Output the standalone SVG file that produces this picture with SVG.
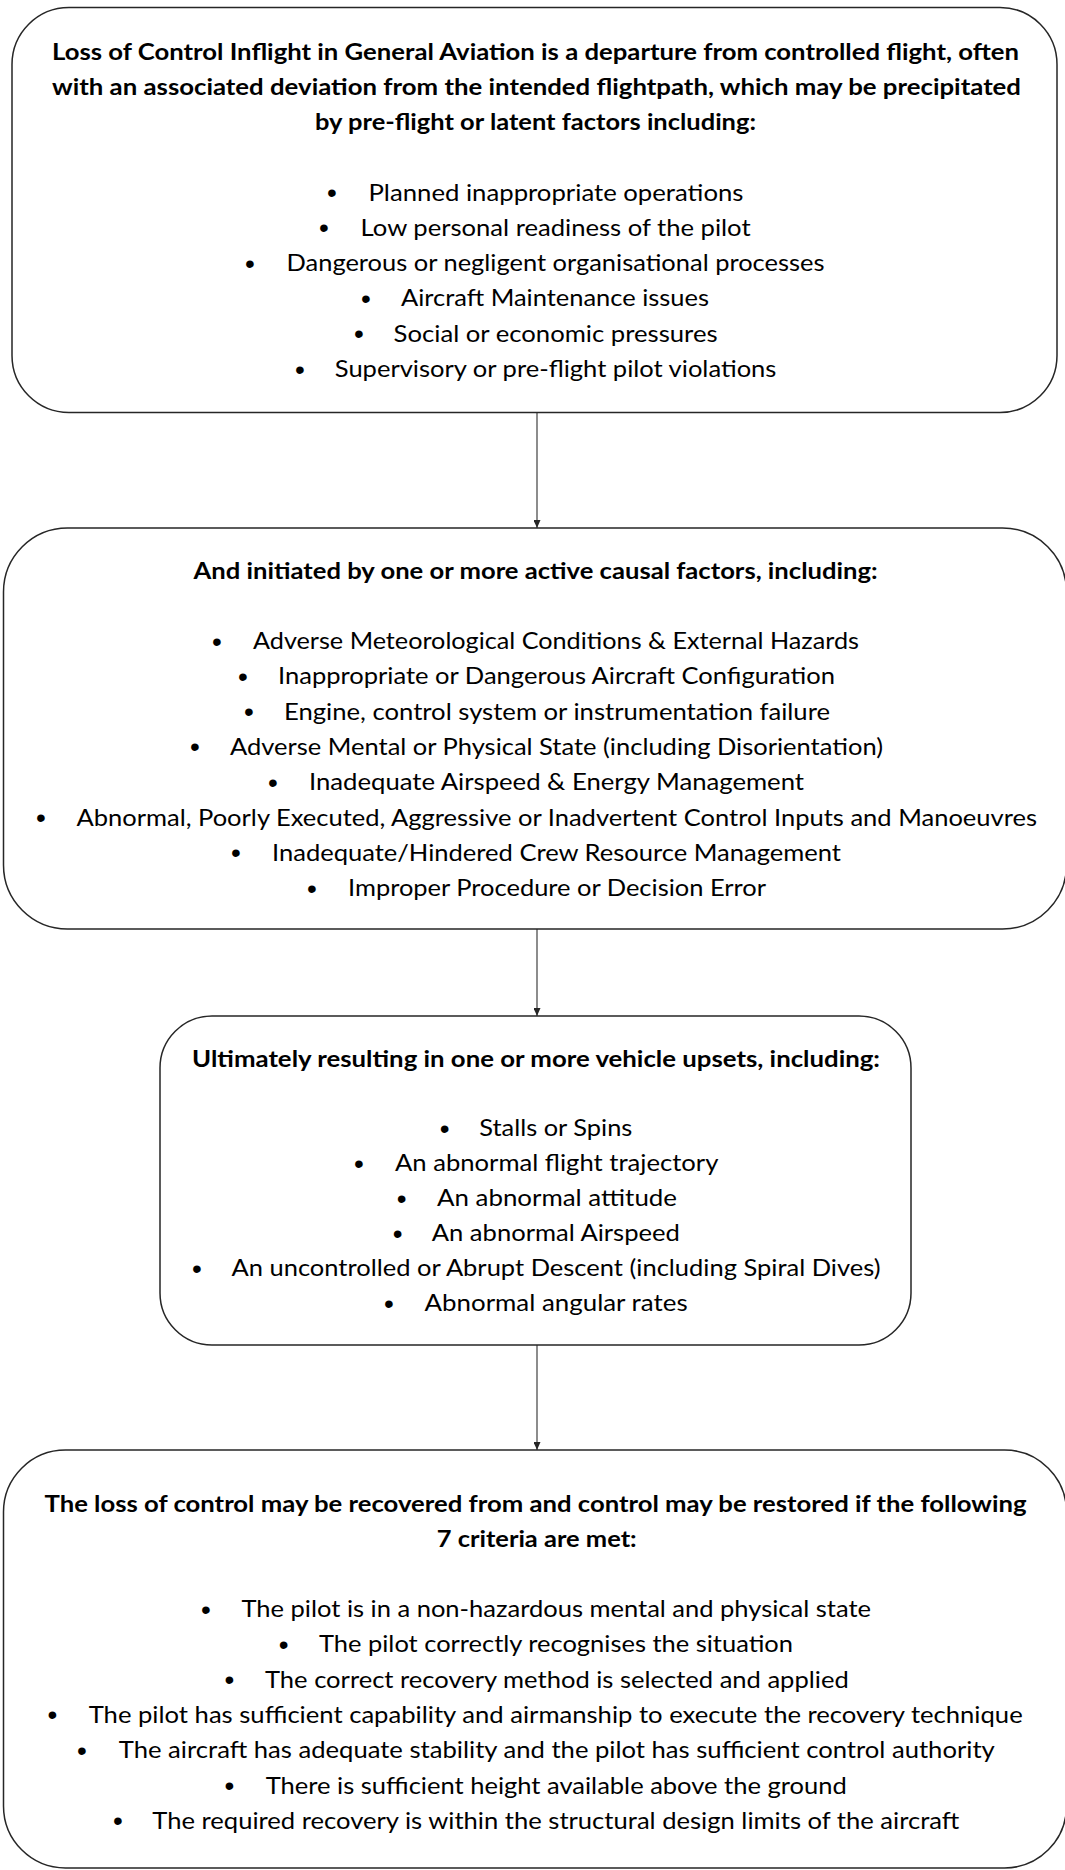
<svg xmlns="http://www.w3.org/2000/svg" width="1065" height="1870" viewBox="0 0 1065 1870">
  <style>
    .box { fill: #ffffff; stroke: #262626; stroke-width: 1.5; }
    .link { fill: none; stroke: #404040; stroke-width: 1.2; }
    text { font-family: Lato, "Open Sans", "Liberation Sans", sans-serif; font-size: 22.5px; fill: #000000; }
    .hd { font-weight: 700; font-size: 22px; }
    .dot { font-family: "Liberation Sans", Arial, sans-serif; font-size: 28px; text-anchor: middle; }
  </style>
  <defs>
    <marker id="ah" viewBox="0 0 8 7" refX="8" refY="3.5" markerWidth="8" markerHeight="7" orient="auto" markerUnits="userSpaceOnUse">
      <path d="M0,0 L8,3.5 L0,7 z" fill="#262626"/>
    </marker>
  </defs>
  <rect x="0" y="0" width="1065" height="1870" fill="#ffffff"/>

  <!-- connectors between the four stages -->
  <g id="connectors">
    <line class="link" x1="537" y1="413" x2="537" y2="528" marker-end="url(#ah)"/>
    <line class="link" x1="537" y1="929" x2="537" y2="1016" marker-end="url(#ah)"/>
    <line class="link" x1="537" y1="1345" x2="537" y2="1450" marker-end="url(#ah)"/>
  </g>

  <!-- stage 1: definition and latent factors -->
  <g id="node-definition">
    <rect class="box" x="12" y="7.5" width="1045" height="405" rx="57" ry="57"/>
    <text class="hd" x="52" y="59.5" textLength="967" lengthAdjust="spacingAndGlyphs">Loss of Control Inflight in General Aviation is a departure from controlled flight, often</text>
    <text class="hd" x="52" y="94.8" textLength="969" lengthAdjust="spacingAndGlyphs">with an associated deviation from the intended flightpath, which may be precipitated</text>
    <text class="hd" x="315" y="130" textLength="441" lengthAdjust="spacingAndGlyphs">by pre-flight or latent factors including:</text>
    <text class="dot" x="332" y="202">•</text>
    <text x="368.5" y="200.5" textLength="375" lengthAdjust="spacingAndGlyphs">Planned inappropriate operations</text>
    <text class="dot" x="324" y="237.3">•</text>
    <text x="360.6" y="235.8" textLength="390" lengthAdjust="spacingAndGlyphs">Low personal readiness of the pilot</text>
    <text class="dot" x="250" y="272.6">•</text>
    <text x="286.5" y="271.1" textLength="538" lengthAdjust="spacingAndGlyphs">Dangerous or negligent organisational processes</text>
    <text class="dot" x="366" y="307.9">•</text>
    <text x="401" y="306.4" textLength="308" lengthAdjust="spacingAndGlyphs">Aircraft Maintenance issues</text>
    <text class="dot" x="359" y="343.2">•</text>
    <text x="393.6" y="341.7" textLength="324" lengthAdjust="spacingAndGlyphs">Social or economic pressures</text>
    <text class="dot" x="300" y="378.5">•</text>
    <text x="334.8" y="377" textLength="441.6" lengthAdjust="spacingAndGlyphs">Supervisory or pre-flight pilot violations</text>
  </g>

  <!-- stage 2: active causal factors -->
  <g id="node-causal-factors">
    <rect class="box" x="3.5" y="528" width="1063" height="401" rx="64" ry="64"/>
    <text class="hd" x="193.6" y="579" textLength="684" lengthAdjust="spacingAndGlyphs">And initiated by one or more active causal factors, including:</text>
    <text class="dot" x="217" y="650.5">•</text>
    <text x="253" y="649" textLength="606" lengthAdjust="spacingAndGlyphs">Adverse Meteorological Conditions &amp; External Hazards</text>
    <text class="dot" x="243" y="685.8">•</text>
    <text x="278" y="684.3" textLength="557" lengthAdjust="spacingAndGlyphs">Inappropriate or Dangerous Aircraft Configuration</text>
    <text class="dot" x="249" y="721.1">•</text>
    <text x="284" y="719.6" textLength="546" lengthAdjust="spacingAndGlyphs">Engine, control system or instrumentation failure</text>
    <text class="dot" x="195" y="756.4">•</text>
    <text x="230" y="754.9" textLength="653" lengthAdjust="spacingAndGlyphs">Adverse Mental or Physical State (including Disorientation)</text>
    <text class="dot" x="273" y="791.7">•</text>
    <text x="309" y="790.2" textLength="495" lengthAdjust="spacingAndGlyphs">Inadequate Airspeed &amp; Energy Management</text>
    <text class="dot" x="41" y="827">•</text>
    <text x="76.5" y="825.5" textLength="960.5" lengthAdjust="spacingAndGlyphs">Abnormal, Poorly Executed, Aggressive or Inadvertent Control Inputs and Manoeuvres</text>
    <text class="dot" x="236" y="862.3">•</text>
    <text x="272" y="860.8" textLength="569" lengthAdjust="spacingAndGlyphs">Inadequate/Hindered Crew Resource Management</text>
    <text class="dot" x="312" y="897.6">•</text>
    <text x="348" y="896.1" textLength="418" lengthAdjust="spacingAndGlyphs">Improper Procedure or Decision Error</text>
  </g>

  <!-- stage 3: vehicle upsets -->
  <g id="node-upsets">
    <rect class="box" x="160" y="1016" width="751" height="329" rx="52" ry="52"/>
    <text class="hd" x="192" y="1067" textLength="688" lengthAdjust="spacingAndGlyphs">Ultimately resulting in one or more vehicle upsets, including:</text>
    <text class="dot" x="444.6" y="1137.5">•</text>
    <text x="479.3" y="1136" textLength="153" lengthAdjust="spacingAndGlyphs">Stalls or Spins</text>
    <text class="dot" x="359" y="1172.5">•</text>
    <text x="395" y="1171" textLength="323.4" lengthAdjust="spacingAndGlyphs">An abnormal flight trajectory</text>
    <text class="dot" x="401.7" y="1207.5">•</text>
    <text x="437" y="1206" textLength="240" lengthAdjust="spacingAndGlyphs">An abnormal attitude</text>
    <text class="dot" x="397.6" y="1242.5">•</text>
    <text x="431.8" y="1241" textLength="248" lengthAdjust="spacingAndGlyphs">An abnormal Airspeed</text>
    <text class="dot" x="196.8" y="1277.5">•</text>
    <text x="231.5" y="1276" textLength="649" lengthAdjust="spacingAndGlyphs">An uncontrolled or Abrupt Descent (including Spiral Dives)</text>
    <text class="dot" x="389" y="1312.5">•</text>
    <text x="424.6" y="1311" textLength="263" lengthAdjust="spacingAndGlyphs">Abnormal angular rates</text>
  </g>

  <!-- stage 4: recovery criteria -->
  <g id="node-recovery">
    <rect class="box" x="3.5" y="1450" width="1063" height="418" rx="62" ry="62"/>
    <text class="hd" x="44.5" y="1512" textLength="982" lengthAdjust="spacingAndGlyphs">The loss of control may be recovered from and control may be restored if the following</text>
    <text class="hd" x="436.7" y="1547" textLength="200" lengthAdjust="spacingAndGlyphs">7 criteria are met:</text>
    <text class="dot" x="206" y="1618.5">•</text>
    <text x="241.5" y="1617" textLength="629.5" lengthAdjust="spacingAndGlyphs">The pilot is in a non-hazardous mental and physical state</text>
    <text class="dot" x="283.6" y="1653.8">•</text>
    <text x="319" y="1652.3" textLength="474" lengthAdjust="spacingAndGlyphs">The pilot correctly recognises the situation</text>
    <text class="dot" x="229.5" y="1689.1">•</text>
    <text x="265" y="1687.6" textLength="583.7" lengthAdjust="spacingAndGlyphs">The correct recovery method is selected and applied</text>
    <text class="dot" x="52.4" y="1724.4">•</text>
    <text x="88.7" y="1722.9" textLength="934" lengthAdjust="spacingAndGlyphs">The pilot has sufficient capability and airmanship to execute the recovery technique</text>
    <text class="dot" x="81.8" y="1759.7">•</text>
    <text x="118.8" y="1758.2" textLength="876" lengthAdjust="spacingAndGlyphs">The aircraft has adequate stability and the pilot has sufficient control authority</text>
    <text class="dot" x="229.4" y="1795">•</text>
    <text x="265.7" y="1793.5" textLength="581" lengthAdjust="spacingAndGlyphs">There is sufficient height available above the ground</text>
    <text class="dot" x="118" y="1830.3">•</text>
    <text x="152.3" y="1828.8" textLength="807" lengthAdjust="spacingAndGlyphs">The required recovery is within the structural design limits of the aircraft</text>
  </g>
</svg>
